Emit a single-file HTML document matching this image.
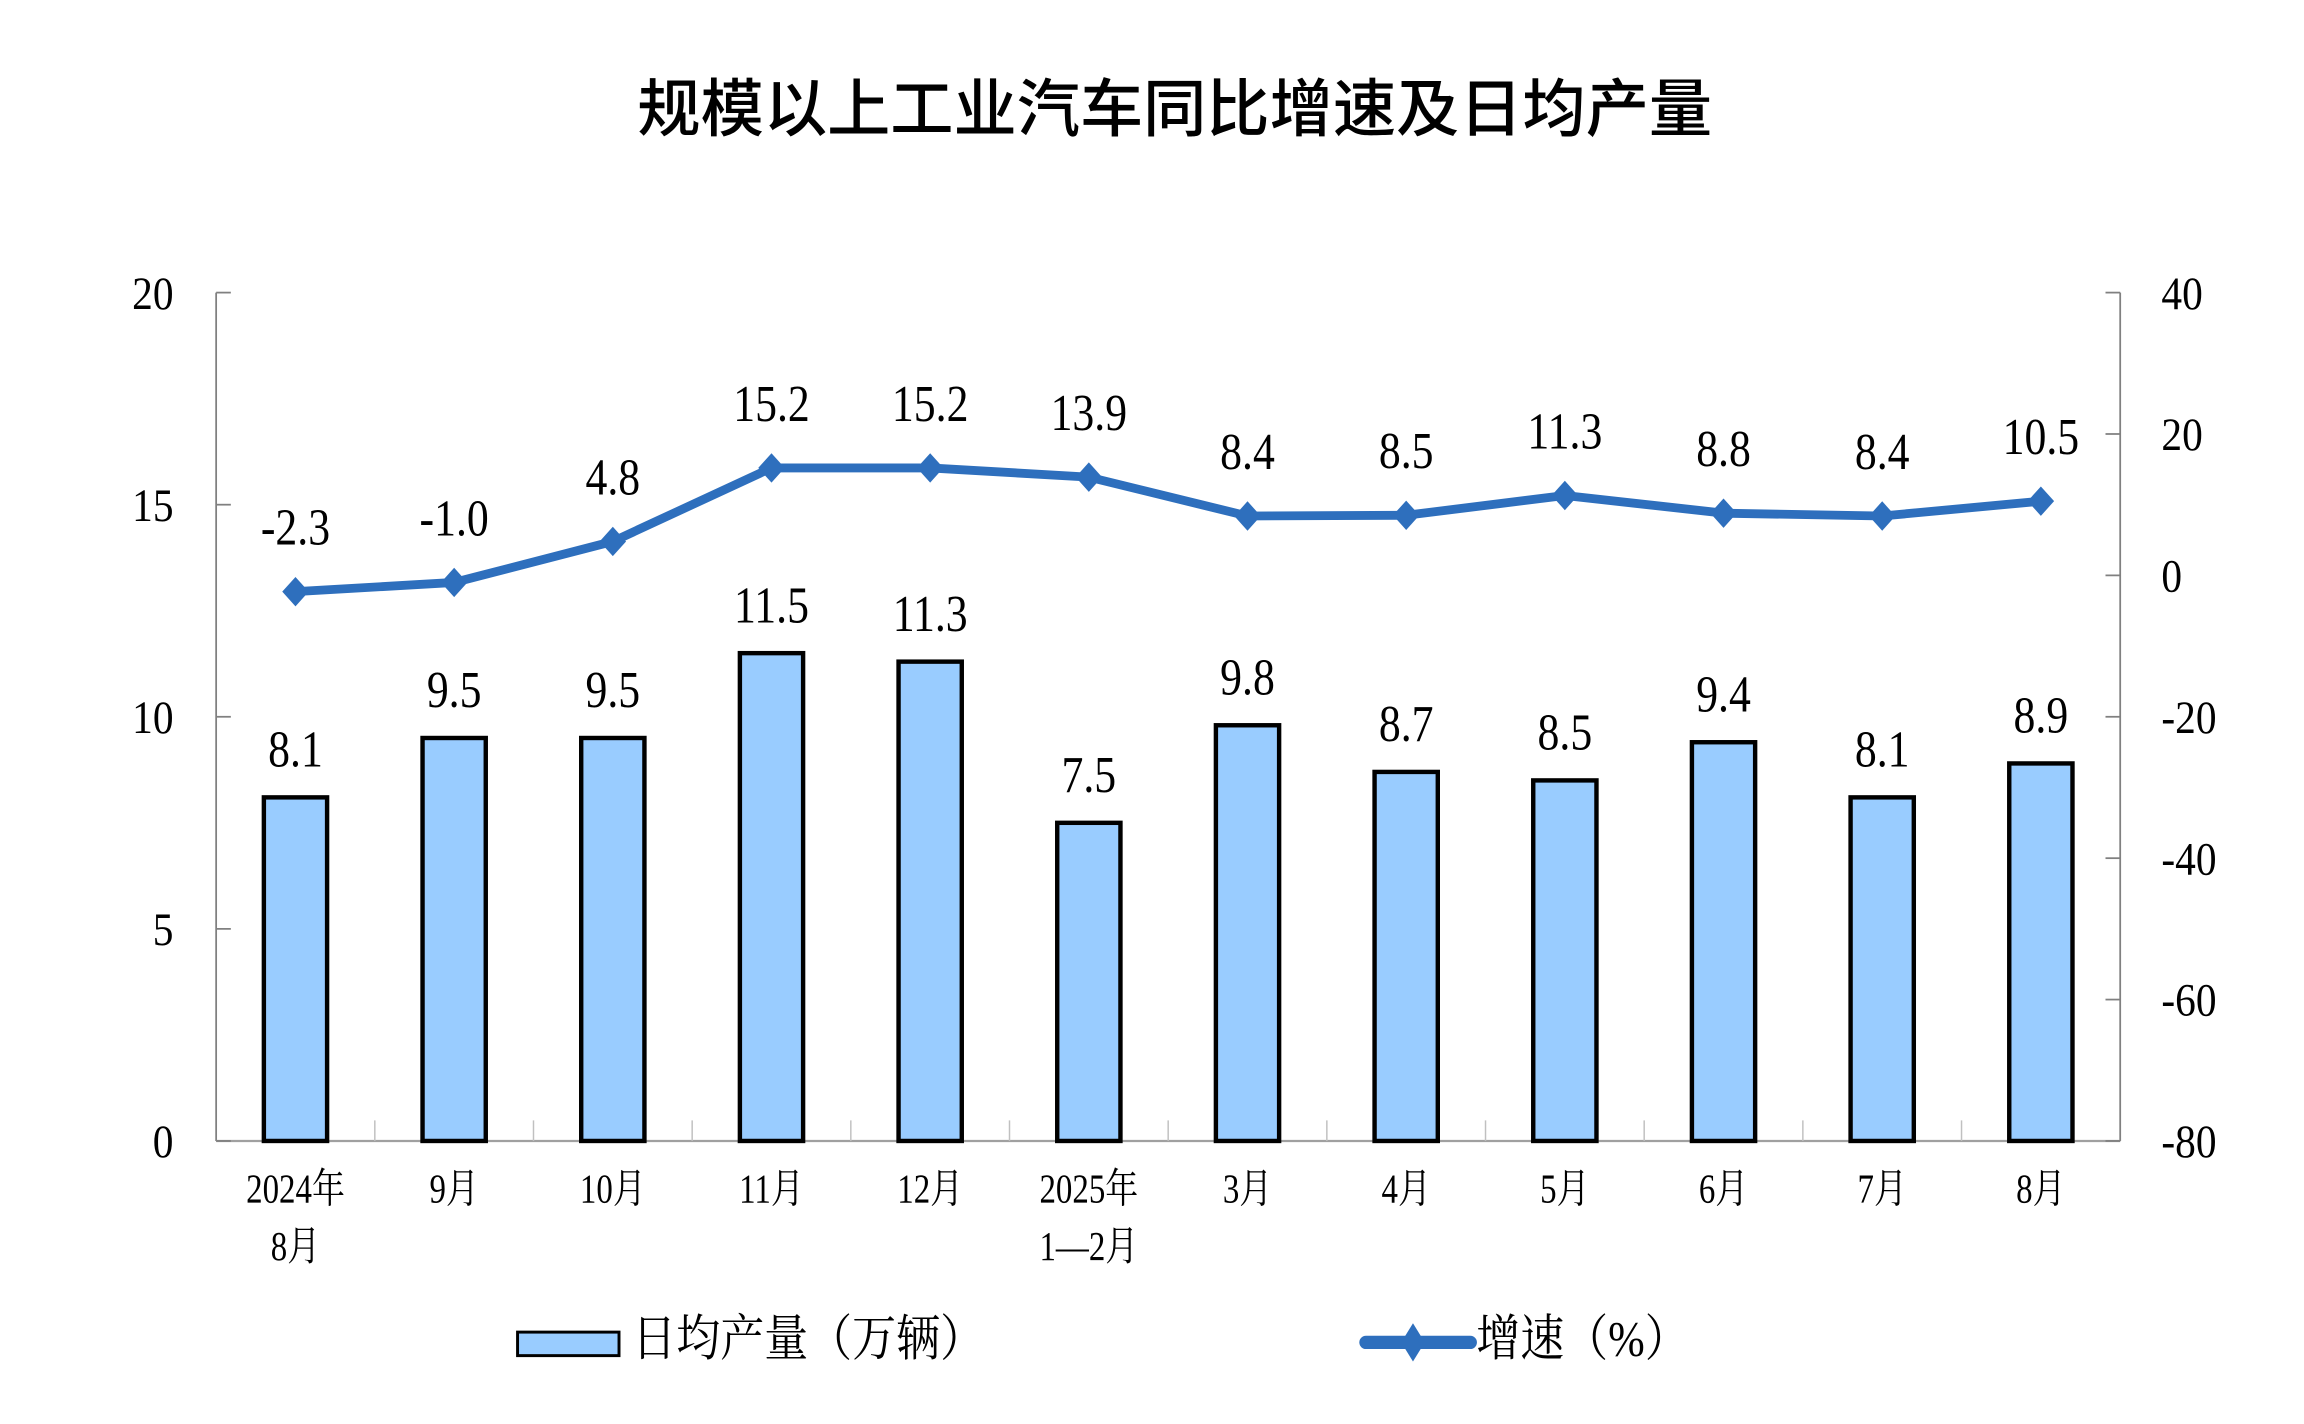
<!DOCTYPE html>
<html><head><meta charset="utf-8"><style>html,body{margin:0;padding:0;background:#fff}svg{display:block}</style></head>
<body>
<svg id="s" width="2304" height="1424" viewBox="0 0 1567 968.5" xmlns="http://www.w3.org/2000/svg">
<rect width="1567" height="969" fill="#fff"/>
<text x="799" y="89" text-anchor="middle" font-family="'Noto Sans CJK SC','WenQuanYi Zen Hei',sans-serif" font-size="43" font-weight="500" fill="#000">规模以上工业汽车同比增速及日均产量</text>
<g id="g"></g>
</svg>
<script>
var g=document.getElementById('g'),h='';
var X0=147,X1=1442,T=199,B=776;
var bars=[8.1,9.5,9.5,11.5,11.3,7.5,9.8,8.7,8.5,9.4,8.1,8.9];
var ln=[-2.3,-1.0,4.8,15.2,15.2,13.9,8.4,8.5,11.3,8.8,8.4,10.5];
var w=(X1-X0)/12;
function yl(v){return B-v*(B-T)/20}
function yr(v){return B-(v+80)*(B-T)/120}
var SF="font-family=\"'Liberation Serif','Noto Serif CJK SC',serif\"";
function txt(x,y,s,fs,sx,anchor){return '<text transform="translate('+x+','+y+') scale('+sx+',1)" text-anchor="'+(anchor||'middle')+'" '+SF+' font-size="'+fs+'" fill="#000">'+s+'</text>';}
h+='<line x1="'+X0+'" y1="'+T+'" x2="'+X0+'" y2="'+B+'" stroke="#808080" stroke-width="1.2"/>';
h+='<line x1="'+X1+'" y1="'+T+'" x2="'+X1+'" y2="'+B+'" stroke="#808080" stroke-width="1.2"/>';
h+='<line x1="'+X0+'" y1="'+B+'" x2="'+X1+'" y2="'+B+'" stroke="#a0a0a0" stroke-width="1.5"/>';
for(var i=0;i<=4;i++){var y=yl(i*5);h+='<line x1="'+X0+'" y1="'+y+'" x2="'+(X0+10)+'" y2="'+y+'" stroke="#808080" stroke-width="1.2"/>';
h+=txt(118,y+11,String(i*5),32,0.88,'end');}
for(var i=0;i<=6;i++){var v=-80+i*20,y=yr(v);h+='<line x1="'+(X1-10)+'" y1="'+y+'" x2="'+X1+'" y2="'+y+'" stroke="#808080" stroke-width="1.2"/>';
h+=txt(1470,y+11,String(v),32,0.88,'start');}
for(var i=1;i<12;i++){var x=X0+i*w;h+='<line x1="'+x+'" y1="'+(B-14)+'" x2="'+x+'" y2="'+B+'" stroke="#c0c0c0" stroke-width="1"/>';}
var cats=[['2024年','8月'],['9月'],['10月'],['11月'],['12月'],['2025年','1—2月'],['3月'],['4月'],['5月'],['6月'],['7月'],['8月']];
for(var i=0;i<12;i++){var cx=X0+(i+0.5)*w,bt=yl(bars[i]);
h+='<rect x="'+(cx-21.5)+'" y="'+bt+'" width="43" height="'+(B-bt)+'" fill="#99CCFF" stroke="#000" stroke-width="3"/>';
h+=txt(cx,bt-21,bars[i].toFixed(1),35,0.85);
h+=txt(cx,818,cats[i][0],28,0.8);
if(cats[i][1])h+=txt(cx,857,cats[i][1],28,0.8);}
var pts=[];for(var i=0;i<12;i++){pts.push((X0+(i+0.5)*w)+','+yr(ln[i]));}
h+='<polyline points="'+pts.join(' ')+'" fill="none" stroke="#2E6FBD" stroke-width="6" stroke-linejoin="round"/>';
for(var i=0;i<12;i++){var cx=X0+(i+0.5)*w,y=yr(ln[i]);
h+='<polygon points="'+cx+','+(y-10)+' '+(cx+9)+','+y+' '+cx+','+(y+10)+' '+(cx-9)+','+y+'" fill="#2E6FBD"/>';
h+=txt(cx,y-32,ln[i].toFixed(1),35,0.85);}
h+='<rect x="352" y="906" width="69" height="16" fill="#99CCFF" stroke="#000" stroke-width="2"/>';
h+='<text transform="translate(430,922) scale(0.88,1)" '+SF+' font-size="34" fill="#000">日均产量（万辆）</text>';
h+='<line x1="929" y1="913" x2="1000" y2="913" stroke="#2E6FBD" stroke-width="9" stroke-linecap="round"/>';
h+='<polygon points="961,900 969,913 961,926 953,913" fill="#2E6FBD"/>';
h+='<text transform="translate(1004,922) scale(0.88,1)" '+SF+' font-size="34" fill="#000">增速（%）</text>';
g.innerHTML=h;
</script>
</body></html>
